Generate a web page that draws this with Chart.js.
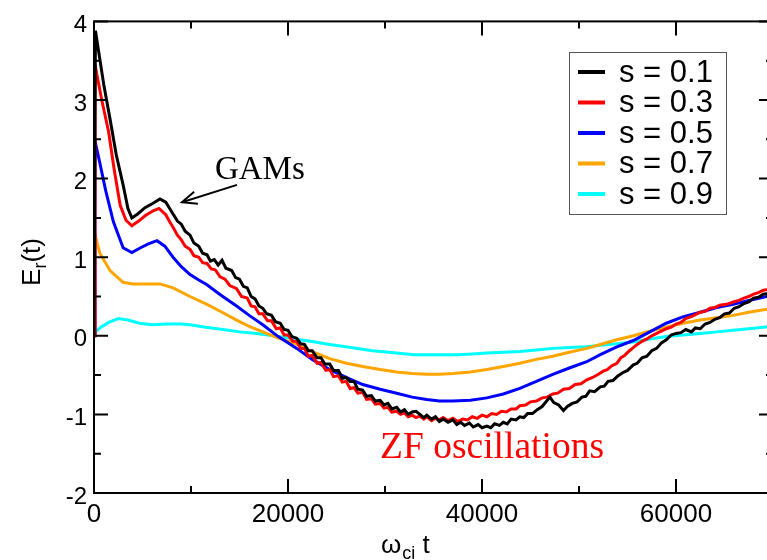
<!DOCTYPE html>
<html>
<head>
<meta charset="utf-8">
<script src="https://cdn.jsdelivr.net/npm/chart.js@4/dist/chart.umd.min.js"></script>
<style>
html,body{margin:0;padding:0;background:#fff;overflow:hidden;}
#wrap{width:780px;height:560px;position:relative;}
</style>
</head>
<body>
<div id="wrap"><canvas id="c" width="780" height="560"></canvas></div>
<script>
// ---- data ----
const seriesLabels = ["s = 0.1", "s = 0.3", "s = 0.5", "s = 0.7", "s = 0.9"];
const seriesColors = ["#000000", "#ff0000", "#0000ff", "#ffa500", "#00ffff"];

const tBlack = [0,150,1000,1650,2300,3000,3500,3900,4500,5260,6000,6800,7400,7800,8150,8600,9000,9400,9900,10300,10800,11200,11650,12000,12400,12800,13200,13600,14200,14600,15000,15400,15800,16200,16600,17000,17400,17800,18300,18700,19200,19600,20000,20400,20900,21300,21700,22100,22500,23000,23400,23800,24300,24700,25200,25600,26000,26400,26800,27200,27700,28100,28600,29000,29500,29900,30300,30700,31200,31600,32000,32400,32800,33200,33600,34000,34300,34800,35200,35600,36000,36500,37000,37400,37800,38200,38700,39100,39600,40000,40500,40900,41300,41800,42200,42600,43000,43500,43900,44300,44700,45200,45700,46200,46600,47000,47400,47900,48400,48800,49300,49800,50300,50700,51100,51600,52200,52600,53000,53500,54000,54500,55000,55600,56000,56500,57000,57500,58000,58500,59000,59500,60000,60500,61000,61600,62000,62500,63000,63500,64000,64500,65000,65500,66000,66500,67000,67500,68000,68500,69000,69500,70000];
const vBlack = [0,3.88,3.2,2.76,2.3,1.92,1.62,1.5,1.55,1.63,1.68,1.74,1.70,1.62,1.55,1.46,1.42,1.33,1.28,1.18,1.14,1.05,1.03,0.95,0.97,0.90,0.96,0.86,0.83,0.74,0.72,0.63,0.61,0.50,0.47,0.38,0.35,0.28,0.26,0.18,0.16,0.08,0.07,-0.01,-0.03,-0.10,-0.11,-0.19,-0.19,-0.28,-0.28,-0.36,-0.36,-0.44,-0.44,-0.54,-0.53,-0.58,-0.58,-0.68,-0.69,-0.77,-0.76,-0.83,-0.82,-0.88,-0.86,-0.93,-0.91,-0.97,-0.94,-1.0,-0.97,-0.96,-1.0,-1.04,-1.01,-1.06,-1.03,-1.09,-1.06,-1.1,-1.07,-1.13,-1.1,-1.14,-1.11,-1.16,-1.13,-1.17,-1.15,-1.17,-1.12,-1.14,-1.1,-1.12,-1.06,-1.07,-1.03,-1.04,-0.99,-0.99,-0.94,-0.9,-0.84,-0.78,-0.85,-0.88,-0.95,-0.9,-0.86,-0.84,-0.78,-0.77,-0.7,-0.71,-0.65,-0.64,-0.58,-0.57,-0.51,-0.47,-0.44,-0.37,-0.35,-0.28,-0.26,-0.19,-0.16,-0.09,-0.05,0.01,0.03,0.04,0.08,0.05,0.1,0.09,0.15,0.17,0.21,0.23,0.28,0.29,0.35,0.37,0.41,0.43,0.48,0.49,0.53,0.54,0.57];

const tRed = [0,100,800,1500,2100,2700,3300,3900,4600,5300,6100,6700,7400,7800,8150,8600,9000,9400,9900,10300,10800,11200,11650,12100,12500,13000,13500,14000,14700,15200,15800,16200,16600,17000,17400,17900,18300,18800,19200,19600,20000,20500,20900,21300,21700,22100,22500,23000,23400,23900,24300,24700,25200,25600,26000,26400,26800,27200,27700,28100,28600,29000,29500,29900,30300,30700,31200,31600,32000,32400,32800,33200,33600,34000,34300,34800,35200,35600,36000,36500,37000,37500,38000,38500,39000,39500,40000,40500,41000,41500,42000,42500,43000,43500,43900,44500,45000,45600,46200,46700,47300,47800,48400,49000,49600,50200,50800,51400,52000,52500,52900,53400,53900,54300,54700,55200,55600,56000,56500,57000,57500,58000,58500,59000,59500,60000,60500,61000,61700,62500,63000,63500,64000,64500,65200,65900,66500,67000,67500,68000,68500,69000,69500,70000];
const vRed = [0,3.45,3.0,2.6,2.1,1.66,1.47,1.4,1.46,1.53,1.59,1.62,1.54,1.45,1.38,1.28,1.22,1.14,1.1,1.02,1.0,0.93,0.92,0.85,0.84,0.75,0.72,0.64,0.6,0.5,0.48,0.38,0.37,0.28,0.28,0.19,0.19,0.09,0.1,0.01,0.01,-0.07,-0.07,-0.16,-0.16,-0.26,-0.25,-0.35,-0.34,-0.44,-0.43,-0.52,-0.51,-0.59,-0.58,-0.67,-0.66,-0.73,-0.72,-0.81,-0.8,-0.87,-0.86,-0.92,-0.91,-0.97,-0.96,-1.0,-0.98,-1.03,-1.01,-1.04,-1.02,-1.06,-1.03,-1.08,-1.05,-1.07,-1.04,-1.08,-1.05,-1.09,-1.06,-1.07,-1.03,-1.05,-1.01,-1.03,-0.99,-1.0,-0.96,-0.97,-0.93,-0.93,-0.89,-0.88,-0.84,-0.83,-0.79,-0.78,-0.74,-0.73,-0.68,-0.67,-0.62,-0.61,-0.56,-0.53,-0.49,-0.45,-0.43,-0.38,-0.35,-0.28,-0.25,-0.19,-0.15,-0.11,-0.07,-0.04,0.0,0.03,0.06,0.09,0.11,0.15,0.17,0.22,0.25,0.3,0.31,0.35,0.36,0.39,0.4,0.43,0.45,0.48,0.5,0.53,0.55,0.58,0.59,0.62];

const tBlue = [0,100,600,1200,2000,3000,3900,4800,5600,6500,7300,8150,9000,9900,10800,11650,12600,13500,14700,16000,17400,19000,20900,22500,24300,26000,27700,29500,31200,32800,34300,35600,37000,38800,40500,42200,43900,45600,47300,49000,50800,52200,53900,55600,57300,59000,60700,62500,64200,65900,67500,69000,70000];
const vBlue = [0,2.48,2.2,1.85,1.45,1.12,1.06,1.12,1.17,1.21,1.14,1.0,0.88,0.78,0.71,0.65,0.56,0.48,0.38,0.26,0.14,-0.01,-0.16,-0.3,-0.43,-0.53,-0.62,-0.68,-0.73,-0.78,-0.81,-0.83,-0.83,-0.82,-0.79,-0.74,-0.67,-0.58,-0.49,-0.41,-0.33,-0.24,-0.14,-0.06,0.05,0.16,0.24,0.3,0.36,0.4,0.45,0.49,0.52];

const tOrange = [0,100,600,1650,3000,4000,5500,6800,8150,9900,11650,13200,14700,16000,17400,19000,20900,22500,24300,26000,27700,29500,31200,32800,34300,35600,37000,38800,40500,42200,43900,45600,47300,49000,50800,52200,53900,55600,57300,59000,60700,62500,64200,65900,67500,69000,70000];
const vOrange = [0,1.29,1.05,0.83,0.68,0.66,0.66,0.66,0.61,0.5,0.4,0.3,0.2,0.12,0.05,-0.03,-0.11,-0.2,-0.29,-0.35,-0.39,-0.43,-0.46,-0.48,-0.49,-0.49,-0.48,-0.46,-0.43,-0.39,-0.35,-0.3,-0.26,-0.21,-0.16,-0.11,-0.05,0.0,0.06,0.11,0.16,0.2,0.23,0.26,0.3,0.33,0.34];

const tCyan = [0,600,1500,2500,3500,4700,6000,7500,9000,9900,11500,13300,15000,16800,18500,20200,22300,24300,26500,28700,31200,33000,34300,36000,37500,39000,40500,42200,43900,45600,47300,49000,50800,52200,53900,55600,57300,59000,60700,62500,64200,65900,67500,69000,70000];
const vCyan = [0.03,0.1,0.17,0.22,0.2,0.16,0.14,0.15,0.15,0.14,0.11,0.08,0.05,0.03,0.0,-0.03,-0.07,-0.11,-0.15,-0.19,-0.22,-0.24,-0.24,-0.24,-0.24,-0.23,-0.22,-0.21,-0.2,-0.18,-0.16,-0.15,-0.14,-0.12,-0.1,-0.08,-0.04,-0.01,0.01,0.03,0.05,0.07,0.09,0.11,0.12];

const xTicks = [0, 20000, 40000, 60000];
const xMinorTicks = [10000, 30000, 50000, 70000];
const yTicks = [-2, -1, 0, 1, 2, 3, 4];
const yMinorTicks = [-1.5, -0.5, 0.5, 1.5, 2.5, 3.5];

// ---- build datasets ----
const seriesT = [tBlack, tRed, tBlue, tOrange, tCyan];
const seriesV = [vBlack, vRed, vBlue, vOrange, vCyan];
const datasets = seriesLabels.map((lab, i) => ({
  label: lab,
  data: seriesT[i].map((t, j) => ({x: t, y: seriesV[i][j]})),
  borderColor: seriesColors[i],
  backgroundColor: seriesColors[i],
  borderWidth: 3,
  pointRadius: 0,
  tension: 0,
  fill: false
}));

const SANS = '"Liberation Sans", Arial, sans-serif';
const SERIF = '"Liberation Serif", "Times New Roman", serif';

const decor = {
  id: 'decor',
  afterDatasetsDraw(chart) {
    const {ctx, chartArea: {left, right, top, bottom}, scales: {x, y}} = chart;
    ctx.save();
    ctx.strokeStyle = '#000';
    ctx.lineWidth = 2;
    ctx.strokeRect(left, top, right - left, bottom - top);
    ctx.beginPath();
    const MAJ = 14, MIN = 7;
    xTicks.forEach(v => { const p = x.getPixelForValue(v); ctx.moveTo(p, bottom); ctx.lineTo(p, bottom - MAJ); ctx.moveTo(p, top); ctx.lineTo(p, top + MAJ); });
    xMinorTicks.forEach(v => { const p = x.getPixelForValue(v); ctx.moveTo(p, bottom); ctx.lineTo(p, bottom - MIN); ctx.moveTo(p, top); ctx.lineTo(p, top + MIN); });
    yTicks.forEach(v => { const p = y.getPixelForValue(v); ctx.moveTo(left, p); ctx.lineTo(left + MAJ, p); ctx.moveTo(right, p); ctx.lineTo(right - MAJ, p); });
    yMinorTicks.forEach(v => { const p = y.getPixelForValue(v); ctx.moveTo(left, p); ctx.lineTo(left + MIN, p); ctx.moveTo(right, p); ctx.lineTo(right - MIN, p); });
    ctx.stroke();

    // legend
    const lx = 569, ly = 52, lw = 157, lh = 162;
    ctx.fillStyle = '#fff';
    ctx.fillRect(lx, ly, lw, lh);
    ctx.strokeStyle = '#555';
    ctx.lineWidth = 1;
    ctx.strokeRect(lx + 0.5, ly + 0.5, lw, lh);
    ctx.font = '31px ' + SANS;
    ctx.textBaseline = 'middle';
    ctx.textAlign = 'left';
    chart.data.datasets.forEach((ds, i) => {
      const cy = 72 + i * 30.5;
      ctx.strokeStyle = ds.borderColor;
      ctx.lineWidth = 4;
      ctx.beginPath(); ctx.moveTo(578, cy); ctx.lineTo(605, cy); ctx.stroke();
      ctx.fillStyle = '#000';
      ctx.fillText(ds.label, 619, cy + 1);
    });

    // GAMs annotation
    ctx.fillStyle = '#000';
    ctx.font = '33px ' + SERIF;
    ctx.textBaseline = 'alphabetic';
    ctx.fillText('GAMs', x.getPixelForValue(12470), y.getPixelForValue(2.0));
    const tx = x.getPixelForValue(9070), ty = y.getPixelForValue(1.70);
    const sx = x.getPixelForValue(14740), sy = y.getPixelForValue(1.92);
    ctx.strokeStyle = '#000';
    ctx.lineWidth = 2;
    ctx.beginPath(); ctx.moveTo(sx, sy); ctx.lineTo(tx, ty); ctx.stroke();
    const ang = Math.atan2(sy - ty, sx - tx);
    const hl = 16, ha = 0.4;
    ctx.beginPath();
    ctx.moveTo(tx + hl * Math.cos(ang + ha), ty + hl * Math.sin(ang + ha));
    ctx.lineTo(tx, ty);
    ctx.lineTo(tx + hl * Math.cos(ang - ha), ty + hl * Math.sin(ang - ha));
    ctx.stroke();

    // ZF oscillations
    ctx.fillStyle = '#ff0000';
    ctx.font = '37.5px ' + SERIF;
    ctx.fillText('ZF oscillations', x.getPixelForValue(29490), y.getPixelForValue(-1.56));

    // axis titles
    ctx.fillStyle = '#000';
    let px = 381, base = 553;
    ctx.font = '26px ' + SANS;
    ctx.fillText('ω', px, base); px += ctx.measureText('ω').width + 1;
    ctx.font = '18px ' + SANS;
    ctx.fillText('ci', px, base + 6); px += ctx.measureText('ci').width;
    ctx.font = '26px ' + SANS;
    ctx.fillText(' t', px, base);

    ctx.save();
    ctx.translate(40, 262);
    ctx.rotate(-Math.PI / 2);
    ctx.font = '26px ' + SANS;
    const wE = ctx.measureText('E').width, wT = ctx.measureText('(t)').width;
    ctx.font = '18px ' + SANS;
    const wR = ctx.measureText('r').width;
    let qx = -(wE + wR + wT) / 2;
    ctx.font = '26px ' + SANS;
    ctx.fillText('E', qx, 0); qx += wE;
    ctx.font = '18px ' + SANS;
    ctx.fillText('r', qx, 6); qx += wR;
    ctx.font = '26px ' + SANS;
    ctx.fillText('(t)', qx, 0);
    ctx.restore();

    ctx.restore();
  }
};

new Chart(document.getElementById('c'), {
  type: 'line',
  data: { datasets },
  options: {
    responsive: false,
    animation: false,
    devicePixelRatio: 1,
    layout: { padding: { top: 17, right: 7, left: 0, bottom: 0 } },
    plugins: { legend: { display: false }, tooltip: { enabled: false } },
    scales: {
      x: {
        type: 'linear', min: 0, max: 70000,
        afterBuildTicks: s => { s.ticks = xTicks.map(v => ({ value: v })); },
        afterFit: s => { s.height = 67; },
        grid: { display: false, drawTicks: false },
        border: { display: false },
        ticks: { font: { size: 26, family: SANS }, color: '#000', padding: 6, maxRotation: 0, autoSkip: false, callback: v => String(v) }
      },
      y: {
        type: 'linear', min: -2, max: 4,
        afterBuildTicks: s => { s.ticks = yTicks.map(v => ({ value: v })); },
        afterFit: s => { s.width = 94; },
        grid: { display: false, drawTicks: false },
        border: { display: false },
        ticks: { font: { size: 24, family: SANS }, color: '#000', padding: 7, labelOffset: 4, autoSkip: false, callback: v => String(v) }
      }
    }
  },
  plugins: [decor]
});
</script>
</body>
</html>
